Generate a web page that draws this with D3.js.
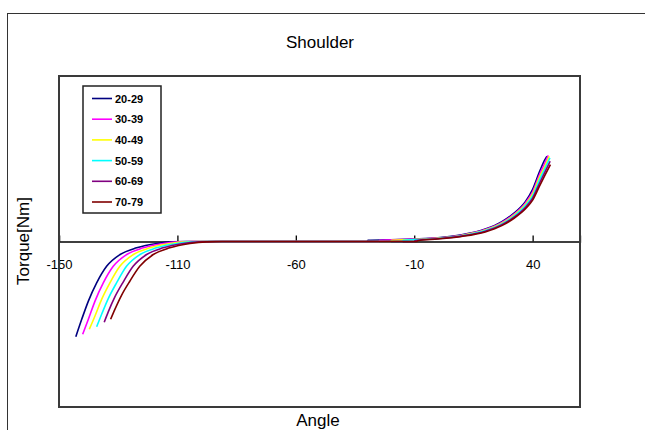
<!DOCTYPE html>
<html>
<head>
<meta charset="utf-8">
<script src="https://cdn.jsdelivr.net/npm/d3@7"></script>
<style>
  body { margin: 0; background: #fff; }
  text { font-family: "Liberation Sans", Arial, sans-serif; }
</style>
</head>
<body>
<script>
// Width og height
const w = 645;
const h = 430;

// Data: [angle, torque]
const seriesNames = ["20-29", "30-39", "40-49", "50-59", "60-69", "70-79"];
const seriesColors = ["#000080", "#ff00ff", "#ffff00", "#00ffff", "#800080", "#800000"];

const age20 = [[-152.9,-11.5],[-150.4,-9.4],[-147.6,-7.2],[-144.1,-5.0],[-139.9,-3.0],[-134.2,-1.57],[-127.2,-0.76],[-118.7,-0.24],[-111.9,-0.04],[-106,0],
  [-30,0],[-29.5,0.15],[-20,0.2],[-10,0.3],[0,0.45],[10,0.8],[20,1.5],[27,2.4],[32,3.4],[37,4.85],[40,6.3],[43,8.5],[45,9.8],[46,10.3]];
const age30 = [[-150.0,-11.2],[-147.6,-9.4],[-144.8,-7.2],[-141.3,-5.0],[-137.1,-3.0],[-131.4,-1.57],[-124.4,-0.76],[-115.9,-0.24],[-109.1,-0.04],[-103,0],
  [-25,0],[-24.5,0.15],[-15,0.24],[-5,0.33],[0,0.42],[10,0.76],[20,1.44],[27,2.3],[32,3.27],[37,4.67],[40,6.0],[43,8.15],[45,9.4],[46.6,10.4]];
const age40 = [[-147.2,-10.6],[-144.8,-9.0],[-142.0,-7.0],[-138.5,-5.0],[-134.3,-3.0],[-128.6,-1.57],[-121.6,-0.76],[-113.1,-0.24],[-106.3,-0.04],[-100,0],
  [-20,0],[-19.5,0.15],[-10,0.24],[0,0.4],[10,0.72],[20,1.38],[27,2.2],[32,3.15],[37,4.5],[40,5.75],[43,7.85],[45,9.0],[47,10.3]];
const age50 = [[-144.1,-10.3],[-142.0,-8.8],[-139.2,-6.9],[-135.7,-5.0],[-131.5,-3.0],[-125.8,-1.57],[-118.8,-0.76],[-110.3,-0.24],[-103.5,-0.04],[-97,0],
  [-15,0],[-14.5,0.15],[-5,0.27],[0,0.37],[10,0.69],[20,1.32],[27,2.12],[32,3.05],[37,4.35],[40,5.5],[43,7.5],[45,8.7],[47.3,10.1]];
const age60 = [[-140.9,-9.75],[-139.2,-8.5],[-136.4,-6.7],[-132.9,-4.9],[-128.7,-3.0],[-123,-1.57],[-116,-0.76],[-107.5,-0.24],[-100.7,-0.04],[-94,0],
  [-10,0],[-9.5,0.12],[0,0.34],[10,0.65],[20,1.24],[27,2.02],[32,2.9],[37,4.15],[40,5.25],[43,7.1],[45,8.3],[47.4,9.7]];
const age70 = [[-138.2,-9.4],[-136.4,-8.2],[-133.6,-6.5],[-130.1,-4.8],[-125.9,-3.0],[-120.2,-1.57],[-113.2,-0.76],[-104.7,-0.24],[-97.9,-0.04],[-91,0],
  [-9,0],[-8.5,0.1],[0,0.31],[10,0.61],[20,1.16],[27,1.92],[32,2.78],[37,3.95],[40,5.0],[43,6.75],[45,7.9],[47.5,9.3]];
const seriesValues = [age20, age30, age40, age50, age60, age70];

const xTicks = [-160, -110, -60, -10, 40];
const xTickLabels = ["-150", "-110", "-60", "-10", "40"];

// plot area
const plot = { left: 59, right: 580, top: 76, bottom: 407 };

const svg = d3.select("body").append("svg").attr("width", w).attr("height", h);

// outer chart frame
svg.append("rect")
  .attr("x", 7.5).attr("y", 13.5)
  .attr("width", w + 10).attr("height", h + 10)
  .attr("fill", "none").attr("stroke", "#333").attr("stroke-width", 1);

const xScale = d3.scaleLinear().domain([-160, 60]).range([plot.left, plot.right]);
const yScale = d3.scaleLinear().domain([-20, 20]).range([plot.bottom, plot.top]);

// x-akse ved y = 0 (ticks pegende opad)
const xAxis = d3.axisTop(xScale)
  .tickValues(xTicks)
  .tickSize(6)
  .tickFormat(function (d, i) { return xTickLabels[i]; });

const gx = svg.append("g")
  .attr("transform", "translate(0," + yScale(0) + ")")
  .call(xAxis);
gx.select(".domain").attr("stroke", "#000").attr("stroke-width", 1.3);
gx.selectAll(".tick line").attr("stroke", "#000").attr("stroke-width", 1.3);
gx.selectAll(".tick text")
  .attr("y", 27)
  .attr("dy", 0)
  .attr("font-size", "13px")
  .attr("fill", "#000");

// linjer
const line = d3.line()
  .x(function (d) { return xScale(d[0]); })
  .y(function (d) { return yScale(d[1]); })
  .curve(d3.curveMonotoneX);

svg.selectAll("path.series")
  .data(seriesValues)
  .enter()
  .append("path")
  .attr("class", "series")
  .attr("d", line)
  .attr("fill", "none")
  .attr("stroke", function (d, i) { return seriesColors[i]; })
  .attr("stroke-width", 1.6);

// plot area border
svg.append("rect")
  .attr("x", plot.left).attr("y", plot.top)
  .attr("width", plot.right - plot.left).attr("height", plot.bottom - plot.top)
  .attr("fill", "none").attr("stroke", "#3a3a3a").attr("stroke-width", 2);

// Title and axis titles
svg.append("text")
  .attr("x", 320).attr("y", 48)
  .attr("text-anchor", "middle")
  .attr("font-size", "17px")
  .text("Shoulder");

svg.append("text")
  .attr("x", 318).attr("y", 426)
  .attr("text-anchor", "middle")
  .attr("font-size", "17px")
  .text("Angle");

svg.append("text")
  .attr("transform", "translate(29,241) rotate(-90)")
  .attr("text-anchor", "middle")
  .attr("font-size", "17px")
  .text("Torque[Nm]");

// Legend
const legend = svg.append("g").attr("transform", "translate(83,86)");
legend.append("rect")
  .attr("x", 0).attr("y", 0)
  .attr("width", 78).attr("height", 127)
  .attr("fill", "#fff").attr("stroke", "#222").attr("stroke-width", 1.5);

const items = legend.selectAll("g.item")
  .data(seriesNames)
  .enter()
  .append("g")
  .attr("class", "item")
  .attr("transform", function (d, i) { return "translate(0," + (12.5 + i * 20.7) + ")"; });

items.append("line")
  .attr("x1", 9).attr("x2", 29)
  .attr("stroke", function (d, i) { return seriesColors[i]; })
  .attr("stroke-width", 1.6);

items.append("text")
  .attr("x", 32).attr("y", 4)
  .attr("font-size", "11px")
  .attr("font-weight", "bold")
  .text(function (d) { return d; });
</script>
</body>
</html>
